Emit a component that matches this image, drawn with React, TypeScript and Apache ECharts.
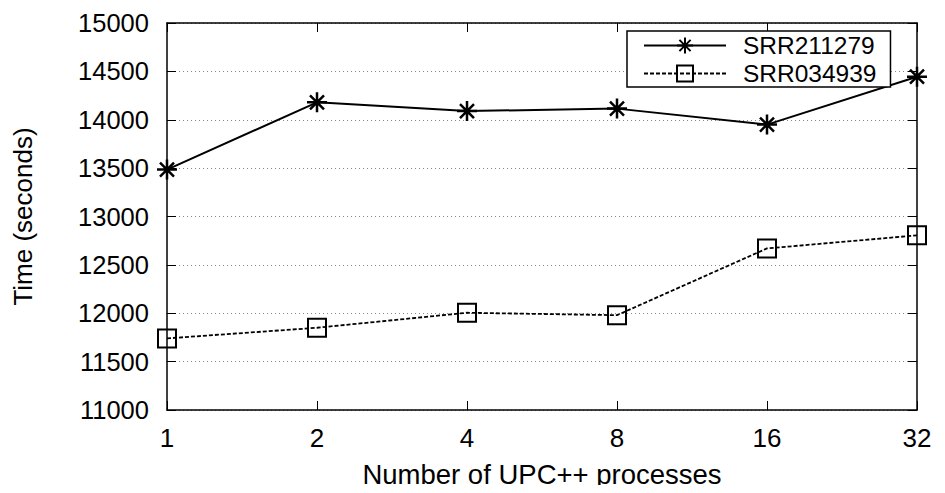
import React, { useEffect, useRef } from "react";
import * as echarts from "echarts";

const categories = ["1", "2", "4", "8", "16", "32"];
const seriesNames = ["SRR211279", "SRR034939"];
const srr211279 = [13485, 14180, 14090, 14115, 13950, 14445];
const srr034939 = [11740, 11850, 12005, 11980, 12670, 12805];
const yMin = 11000;
const yMax = 15000;
const yStep = 500;

const FONT = "'Liberation Sans', Arial, Helvetica, sans-serif";
const STAR = "path://M10,0L10,20M0,10L20,10M3,3L17,17M3,17L17,3";

export default function App() {
  const ref = useRef<HTMLDivElement>(null);
  useEffect(() => {
    if (!ref.current) return;
    const chart = echarts.init(ref.current, undefined, { renderer: "svg" });
    const axisLine = { show: true, lineStyle: { color: "#000", width: 1.5 } };
    const tick = { show: true, inside: true, length: 9, lineStyle: { color: "#000", width: 1 } };
    chart.setOption({
      animation: false,
      backgroundColor: "#fff",
      textStyle: { fontFamily: FONT },
      grid: { left: 167, top: 23, right: 28, bottom: 82, containLabel: false },
      legend: {
        data: seriesNames,
        orient: "vertical",
        left: 627,
        top: 31,
        padding: [2, 14, 1, 16],
        itemGap: 3,
        itemWidth: 82,
        itemHeight: 20,
        borderColor: "#000",
        borderWidth: 1.5,
        backgroundColor: "#fff",
        textStyle: { fontSize: 24.5, color: "#000", fontFamily: FONT, padding: [0, 0, 0, 12], lineHeight: 24 },
      },
      xAxis: [
        {
          type: "category",
          data: categories,
          boundaryGap: false,
          position: "bottom",
          axisLine,
          axisTick: tick,
          axisLabel: { fontSize: 26, color: "#000", fontFamily: FONT, margin: 15 },
          splitLine: { show: false },
          name: "Number of UPC++ processes",
          nameLocation: "middle",
          nameGap: 50,
          nameTextStyle: { fontSize: 27.5, color: "#000", fontFamily: FONT },
        },
        {
          type: "category",
          data: categories,
          boundaryGap: false,
          position: "top",
          axisLine,
          axisTick: tick,
          axisLabel: { show: false },
          splitLine: { show: false },
        },
      ],
      yAxis: [
        {
          type: "value",
          min: yMin,
          max: yMax,
          interval: yStep,
          position: "left",
          axisLine,
          axisTick: tick,
          axisLabel: {
            fontSize: 25.5,
            color: "#000",
            fontFamily: FONT,
            margin: 18,
            formatter: (v: number) => String(v),
          },
          splitLine: { show: true, lineStyle: { color: "#888", width: 1, type: [1, 3] } },
          name: "Time (seconds)",
          nameLocation: "middle",
          nameGap: 131,
          nameTextStyle: { fontSize: 26, color: "#000", fontFamily: FONT },
        },
        {
          type: "value",
          min: yMin,
          max: yMax,
          interval: yStep,
          position: "right",
          axisLine,
          axisTick: tick,
          axisLabel: { show: false },
          splitLine: { show: false },
        },
      ],
      series: [
        {
          name: seriesNames[0],
          type: "line",
          data: srr211279,
          symbol: STAR,
          symbolSize: 20,
          showAllSymbol: true,
          lineStyle: { color: "#000", width: 2, type: "solid" },
          itemStyle: { color: "#000", borderColor: "#000", borderWidth: 2.5 },
          z: 3,
        },
        {
          name: seriesNames[1],
          type: "line",
          data: srr034939,
          symbol: "rect",
          symbolSize: 18,
          showAllSymbol: true,
          lineStyle: { color: "#000", width: 1.8, type: [4, 2] },
          itemStyle: { color: "rgba(0,0,0,0)", borderColor: "#000", borderWidth: 2 },
          z: 3,
        },
      ],
    });
    return () => chart.dispose();
  }, []);
  return <div ref={ref} style={{ width: 945, height: 493, margin: -8 }} />;
}
